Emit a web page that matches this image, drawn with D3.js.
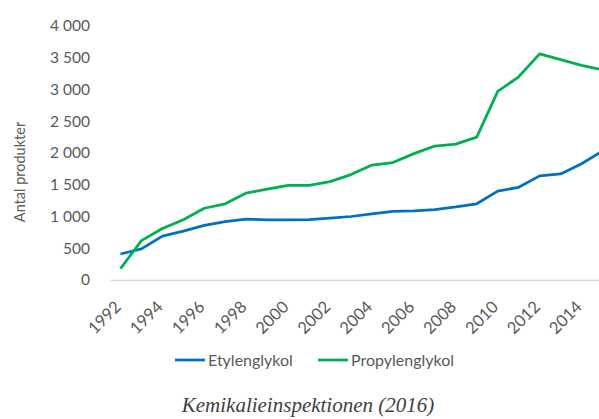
<!DOCTYPE html>
<html>
<head>
<meta charset="utf-8">
<script src="https://cdn.jsdelivr.net/npm/d3@7"></script>
<style>
  body { margin: 0; background: #fff; }
  svg text { font-family: Lato, "Open Sans", sans-serif; fill: #595959; }
</style>
</head>
<body>
<div id="container"></div>
<script>
/* DATA */
const years = d3.range(1992, 2016)
const etylen = [410, 490, 690, 770, 860, 920, 960, 945, 945, 950, 975, 1000,
  1040, 1080, 1090, 1110, 1150, 1200, 1400, 1460, 1640, 1670, 1830, 2030]
const propylen = [180, 620, 810, 950, 1130, 1200, 1370, 1430, 1490, 1490, 1550, 1660,
  1810, 1850, 1990, 2110, 2140, 2250, 2970, 3200, 3560, 3470, 3380, 3310]
const yTicks = [0, 500, 1000, 1500, 2000, 2500, 3000, 3500, 4000]
const xTicks = years.filter(y => y % 2 === 0)
const seriesNames = ["Etylenglykol", "Propylenglykol"]
const colors = ["#0070C0", "#00B050"]

/* CONSTANTS */
const width = 599, height = 419
const margin = {top: 26, bottom: 139, left: 110, right: -14}

const svg = d3.select("#container").append("svg")
  .attr("width", width)
  .attr("height", height)

// SCALES
const xScale = d3.scalePoint()
  .domain(years)
  .range([margin.left, width - margin.right])
  .padding(0.5)

const yScale = d3.scaleLinear()
  .domain([0, 4000])
  .range([height - margin.bottom, margin.top])

// AXES
const yAxis = d3.axisLeft(yScale)
  .tickValues(yTicks)
  .tickSize(0)
  .tickPadding(20)
  .tickFormat(d => d3.format(",")(d).replace(",", " "))

svg.append("g")
  .attr("transform", `translate(${margin.left},0)`)
  .call(yAxis)
  .call(g => g.select(".domain").remove())
  .selectAll("text")
  .style("font-size", "15.5px")

const xAxis = d3.axisBottom(xScale)
  .tickValues(xTicks)
  .tickSize(0)
  .tickPadding(0)

const xg = svg.append("g")
  .attr("transform", `translate(0,${yScale(0)})`)
  .call(xAxis)

xg.select(".domain")
  .attr("stroke", "#d9d9d9")
  .attr("stroke-width", 1.5)

xg.selectAll("text")
  .style("font-size", "16.5px")
  .attr("text-anchor", "end")
  .attr("dy", null)
  .attr("transform", "translate(1,28) rotate(-45)")

// y label
svg.append("text")
  .attr("transform", `translate(25,172) rotate(-90)`)
  .attr("text-anchor", "middle")
  .style("font-size", "14.5px")
  .text("Antal produkter")

// LINES
const line = d3.line()
  .x((d, i) => xScale(years[i]))
  .y(d => yScale(d))

;[etylen, propylen].forEach((s, i) => {
  svg.append("path")
    .attr("d", line(s))
    .attr("fill", "none")
    .attr("stroke", colors[i])
    .attr("stroke-width", 2.75)
    .attr("stroke-linejoin", "round")
})

// LEGEND
const legendX = [175, 318]
seriesNames.forEach((name, i) => {
  const g = svg.append("g").attr("transform", `translate(${legendX[i]},360)`)
  g.append("line")
    .attr("x1", 0).attr("x2", 30)
    .attr("stroke", colors[i])
    .attr("stroke-width", 2.75)
  g.append("text")
    .attr("x", 33)
    .attr("dy", "0.35em")
    .style("font-size", "16px")
    .text(name)
})

// caption
svg.append("text")
  .attr("x", 308)
  .attr("y", 412)
  .attr("text-anchor", "middle")
  .style("font-family", "'Liberation Serif', serif")
  .style("font-style", "italic")
  .style("font-size", "21px")
  .style("fill", "#404040")
  .text("Kemikalieinspektionen (2016)")
</script>
</body>
</html>
